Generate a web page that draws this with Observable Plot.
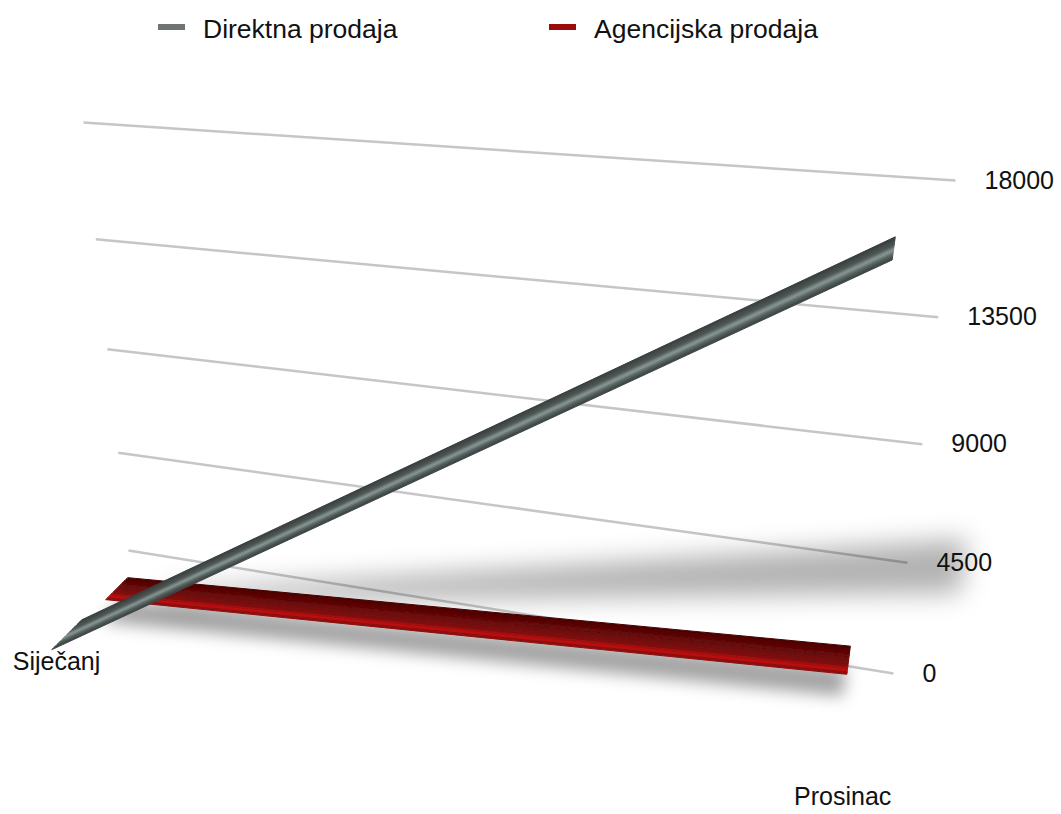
<!DOCTYPE html>
<html>
<head>
<meta charset="utf-8">
<script src="https://cdn.jsdelivr.net/npm/d3@7"></script>
<script src="https://cdn.jsdelivr.net/npm/@observablehq/plot@0.6"></script>
<style>
  html, body { margin: 0; padding: 0; background: #ffffff; }
  body { width: 1061px; height: 814px; overflow: hidden; font-family: "Liberation Sans", Arial, Helvetica, sans-serif; }
  #legend { position: relative; width: 1061px; height: 60px; }
  .sw { position: absolute; top: 24px; width: 27px; height: 6px; }
  .lt { position: absolute; top: 14px; font-size: 26.5px; line-height: 30px; color: #111; white-space: nowrap; }
  #chart svg { display: block; }
</style>
</head>
<body>
<div id="legend"></div>
<div id="chart"></div>
<script>
// ---------------- data ----------------
const categories = ["Siječanj", "Prosinac"];
const seriesNames = ["Direktna prodaja", "Agencijska prodaja"];
const direktna = [600, 17900];
const agencijska = [450, 2500];
const valueTicks = [0, 4500, 9000, 13500, 18000];
const maxValue = 18000;
const legendColors = ["#6e7472", "#9c0b0b"];

// ---------------- perspective layout ----------------
const legendH = 60, W = 1061, H = 814;
// back wall corners in page pixels: (t=0,v=0), (t=1,v=0), (t=1,v=max), (t=0,v=max)
const wall = [[128, 550], [893, 673], [955, 180], [83, 122]];
const depthVanish = [962, -255];
const catT = [0.05, 0.95];           // category positions along the wall
const redDepth = [-0.038, -0.0625];  // back, front
const grayDepth = [-0.0872, -0.117];
const labelDepth = -0.115;
const labelNudge = [[0, 0], [11, -11]];
// soft wall shadow cast by the grey ribbon (left end, right end)
const wideShadow = {t: [0.12, 1.06], q: [-0.05, 0], top: [700, 5700], bottom: [200, 3600]};

function squareToQuad(p) {
  const [p0, p1, p2, p3] = p;
  const sx = p0[0] - p1[0] + p2[0] - p3[0], sy = p0[1] - p1[1] + p2[1] - p3[1];
  const dx1 = p1[0] - p2[0], dx2 = p3[0] - p2[0], dy1 = p1[1] - p2[1], dy2 = p3[1] - p2[1];
  const det = dx1 * dy2 - dx2 * dy1;
  const g = (sx * dy2 - dx2 * sy) / det, h = (dx1 * sy - sx * dy1) / det;
  return {
    a: p1[0] - p0[0] + g * p1[0], b: p3[0] - p0[0] + h * p3[0], c: p0[0],
    d: p1[1] - p0[1] + g * p1[1], e: p3[1] - p0[1] + h * p3[1], f: p0[1], g, h
  };
}
const M = squareToQuad(wall);
function proj(t, v, q = 0) {
  const s = v / maxValue;
  const X = M.a * t + M.b * s + M.c + q * depthVanish[0];
  const Y = M.d * t + M.e * s + M.f + q * depthVanish[1];
  const w = M.g * t + M.h * s + 1 + q;
  return [X / w, Y / w];
}

// ribbon bands (shaded by depth); tag = unique strokeOpacity to find them later
function ribbonMarks(values, depth, stops, n, tag) {
  const col = d3.piecewise(d3.interpolateRgb, stops);
  const marks = [];
  for (let k = 0; k < n; k++) {
    const qa = depth[0] + (depth[1] - depth[0]) * k / n;
    const qb = depth[0] + (depth[1] - depth[0]) * (k + 1) / n;
    const rows = values.map((v, i) => {
      const A = proj(catT[i], v, qa), B = proj(catT[i], v, qb);
      return {x1: A[0], y1: A[1], x2: B[0], y2: B[1]};
    });
    const c = col((k + 0.5) / n);
    marks.push(Plot.area(rows, {x1: "x1", y1: "y1", x2: "x2", y2: "y2", fill: c, stroke: c, strokeWidth: 1, strokeOpacity: tag, curve: "linear"}));
  }
  return marks;
}

// grid rows
const gridRows = valueTicks.map(v => {
  const A = proj(0, v), B = proj(1, v);
  return {v, x1: A[0], y1: A[1], x2: B[0], y2: B[1], label: String(v)};
});
const catRows = categories.map((c, i) => {
  const P = proj(catT[i], 0, labelDepth);
  return {c, x: P[0] + labelNudge[i][0], y: P[1] + labelNudge[i][1]};
});

// soft shadows
const wideShadowRows = [0, 1].map(i => {
  const A = proj(wideShadow.t[i], wideShadow.top[i], wideShadow.q[i]);
  const B = proj(wideShadow.t[i], wideShadow.bottom[i], wideShadow.q[i]);
  return {x1: A[0], y1: A[1], x2: B[0], y2: B[1]};
});
const redShadowRows = agencijska.map((v, i) => {
  const A = proj(catT[i], v, redDepth[0]), B = proj(catT[i], v, redDepth[1]);
  return {x1: A[0], y1: A[1], x2: B[0], y2: B[1]};
});

const chart = Plot.plot({
  width: W, height: H - legendH, margin: 0,
  x: {domain: [0, W], range: [0, W], axis: null},
  y: {domain: [legendH, H], range: [0, H - legendH], axis: null},
  style: {fontFamily: "'Liberation Sans', Arial, Helvetica, sans-serif", background: "#ffffff"},
  marks: [
    Plot.link(gridRows, {x1: "x1", y1: "y1", x2: "x2", y2: "y2", stroke: "#c6c6c6", strokeWidth: 2.5}),
    Plot.area(wideShadowRows, {x1: "x1", y1: "y1", x2: "x2", y2: "y2", fill: "#010101", fillOpacity: 0.3, curve: "linear"}),
    Plot.text(gridRows, {x: "x2", y: "y2", text: "label", textAnchor: "start", dx: 29, fontSize: 25, fill: "#111"}),
    Plot.area(redShadowRows, {x1: "x1", y1: "y1", x2: "x2", y2: "y2", fill: "#020202", fillOpacity: 0.36, dy: 22, dx: -4, curve: "linear"}),
    ...ribbonMarks(agencijska, redDepth, ["#460404", "#540606", "#600707", "#6a0909", "#740a0a", "#800b0b", "#c41212", "#780909"], 12, 0.999),
    ...ribbonMarks(direktna, grayDepth, ["#353b3a", "#424948", "#4f5857", "#8a9a96", "#566160", "#394040"], 12, 0.998),
    Plot.text(catRows, {x: "x", y: "y", text: "c", fontSize: 25, fill: "#111"})
  ]
});

// blur filters for shadows and smoothing of the shaded ribbons
const ns = "http://www.w3.org/2000/svg";
const defs = document.createElementNS(ns, "defs");
[["blurWide", 13], ["blurRed", 8], ["soft", 0.7]].forEach(([id, sd]) => {
  const f = document.createElementNS(ns, "filter");
  f.setAttribute("id", id);
  f.setAttribute("x", "-20%"); f.setAttribute("y", "-80%");
  f.setAttribute("width", "140%"); f.setAttribute("height", "260%");
  const b = document.createElementNS(ns, "feGaussianBlur");
  b.setAttribute("stdDeviation", String(sd));
  f.appendChild(b);
  defs.appendChild(f);
});
chart.insertBefore(defs, chart.firstChild);
chart.querySelectorAll('g[fill="#010101"]').forEach(g => g.setAttribute("filter", "url(#blurWide)"));
chart.querySelectorAll('g[fill="#020202"]').forEach(g => g.setAttribute("filter", "url(#blurRed)"));
["0.999", "0.998"].forEach(tag => {
  const bands = Array.from(chart.querySelectorAll(`g[stroke-opacity="${tag}"]`));
  if (!bands.length) return;
  const wrap = document.createElementNS(ns, "g");
  wrap.setAttribute("filter", "url(#soft)");
  bands[0].parentNode.insertBefore(wrap, bands[0]);
  bands.forEach(b => { b.setAttribute("stroke-opacity", "1"); wrap.appendChild(b); });
});
document.getElementById("chart").appendChild(chart);

// legend
const legend = document.getElementById("legend");
const legendX = [158, 549];
seriesNames.forEach((name, i) => {
  const sw = document.createElement("div");
  sw.className = "sw"; sw.style.left = legendX[i] + "px"; sw.style.background = legendColors[i];
  const tx = document.createElement("div");
  tx.className = "lt"; tx.style.left = (legendX[i] + 45) + "px"; tx.textContent = name;
  legend.appendChild(sw); legend.appendChild(tx);
});
</script>
</body>
</html>
